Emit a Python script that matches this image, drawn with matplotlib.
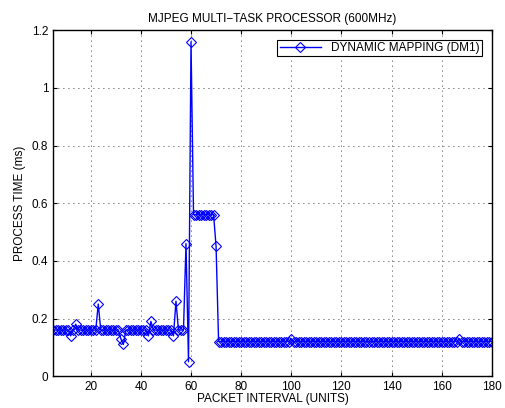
import numpy as np
import matplotlib.pyplot as plt

# packet interval (units) and process time (ms)
packet = np.arange(5, 181)
process_time = np.full(packet.shape, 0.16)
process_time[packet >= 71] = 0.12

# deviations in the 0.16 region
spikes = {
    12: 0.14, 14: 0.18, 23: 0.25, 32: 0.13, 33: 0.11,
    43: 0.14, 44: 0.19, 53: 0.14, 54: 0.26,
    58: 0.46, 59: 0.05, 60: 1.16, 70: 0.45,
    100: 0.13, 167: 0.13,
}
for k in range(61, 70):
    spikes[k] = 0.56
for k, v in spikes.items():
    process_time[packet == k] = v

x_ticks = np.arange(20, 181, 20)
y_ticks = [0, 0.2, 0.4, 0.6, 0.8, 1.0, 1.2]
y_tick_labels = ['0', '0.2', '0.4', '0.6', '0.8', '1', '1.2']

plt.rcParams['font.family'] = ['Liberation Sans', 'DejaVu Sans']
plt.rcParams['font.size'] = 8.5

fig = plt.figure(figsize=(5.06, 4.08), dpi=100)
ax = fig.add_axes([0.105, 0.078, 0.867, 0.848])

ax.plot(packet, process_time, color='blue', lw=1, marker='D', ms=5,
        mfc='none', mec='blue', mew=0.8, label='DYNAMIC MAPPING (DM1)')

ax.set_xlim(5, 180)
ax.set_ylim(0, 1.2)
ax.set_xticks(x_ticks)
ax.set_yticks(y_ticks)
ax.set_yticklabels(y_tick_labels)
ax.tick_params(direction='in', top=True, right=True, length=3, labelsize=8.5)
ax.grid(True, color='black', linestyle=(0, (1, 5)), lw=0.6)
for s in ax.spines.values():
    s.set_linewidth(1)

ax.set_title('MJPEG MULTI\u2212TASK PROCESSOR (600MHz)', fontsize=8.5, pad=6)
ax.set_xlabel('PACKET INTERVAL (UNITS)', fontsize=8.5, labelpad=0)
ax.set_ylabel('PROCESS TIME (ms)', fontsize=8.5, labelpad=4)

leg = ax.legend(loc='upper right', fontsize=8.5, fancybox=False, framealpha=1,
                edgecolor='black', borderpad=0.2, handlelength=3.5,
                bbox_to_anchor=(0.99, 0.99))
leg.get_frame().set_linewidth(0.8)

fig.savefig('out.png', dpi=100)
